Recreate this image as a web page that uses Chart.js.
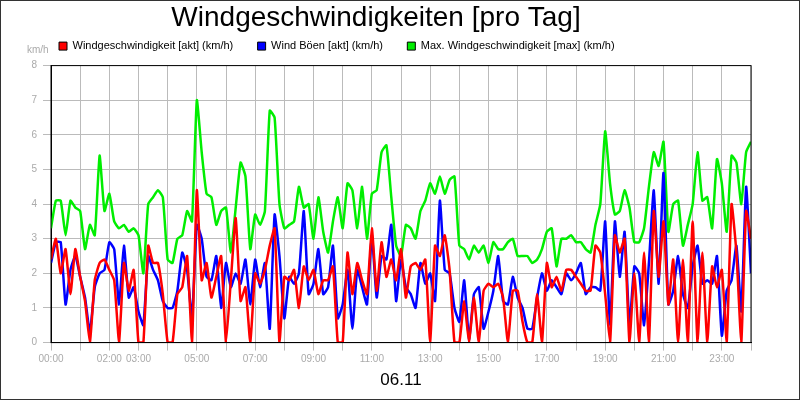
<!DOCTYPE html>
<html>
<head>
<meta charset="utf-8">
<script src="https://cdn.jsdelivr.net/npm/chart.js@4"></script>
<style>
  body { margin: 0; background: #fff; }
  #wrap { position: relative; width: 798px; height: 398px; border: 1px solid #333; }
</style>
</head>
<body>
<div id="wrap"><canvas id="c" width="798" height="398"></canvas></div>
<script>
// 10-Minuten-Werte, 00:00 bis 24:00
const windAkt = [
    2.4,3.0,2.0,2.7,1.4,2.7, 1.9,1.2,0.0,1.8,2.3,2.4, 2.1,1.8,0.0,2.3,1.5,2.1,
    0.0,0.0,2.8,2.3,2.3,1.4, 0.0,0.0,1.4,1.6,2.5,0.0, 4.4,1.8,2.3,1.3,1.9,2.5,
    0.0,1.8,3.6,1.2,1.6,0.0, 2.0,1.7,2.1,2.8,3.3,0.0, 1.9,1.8,2.1,1.0,2.2,1.8,
    2.1,1.4,1.8,1.8,2.2,0.0, 0.0,2.6,1.4,2.3,1.8,1.4, 3.3,1.5,2.9,1.9,2.4,1.8,
    2.7,1.3,2.2,2.3,2.1,2.4, 0.0,2.8,2.5,3.1,2.1,0.0, 0.0,1.2,0.0,1.3,0.0,1.5,
    1.7,1.6,1.7,1.3,0.0,1.5, 1.5,0.6,0.0,0.0,1.4,0.0, 2.3,1.6,1.9,1.5,2.1,2.1,
    1.9,1.7,1.5,1.5,2.8,2.6, 1.4,0.0,3.1,2.6,3.0,0.0, 2.0,0.0,2.6,0.0,3.8,1.9,
    3.5,1.1,2.4,0.0,2.4,0.0, 3.5,0.0,2.6,0.0,2.2,1.6, 2.1,0.0,4.0,2.6,0.0,3.8,
    3.0
];
const windBoeen = [
    2.3,2.9,2.9,1.1,2.1,2.5, 1.9,1.3,0.3,1.6,2.0,2.1, 2.9,2.7,1.1,2.8,1.3,1.6,
    0.9,0.5,2.5,2.1,1.8,1.2, 1.0,1.0,1.5,2.6,2.1,0.7, 3.4,3.0,1.9,1.8,2.5,1.0,
    2.3,1.6,2.0,1.7,2.4,1.1, 2.4,1.6,2.3,0.4,3.7,2.5, 0.7,1.9,1.7,2.0,3.8,1.4,
    1.7,2.7,1.4,1.6,2.8,0.7, 1.1,2.1,0.4,2.1,1.6,1.1, 3.1,1.3,2.5,2.4,3.4,1.2,
    2.4,1.6,1.4,1.0,2.3,1.7, 2.0,1.2,4.1,2.1,2.0,1.0, 0.6,1.8,0.1,1.4,1.6,0.4,
    0.9,1.5,2.5,1.2,1.1,1.9, 1.3,1.0,0.4,0.4,1.3,2.0, 1.5,1.8,1.6,1.4,2.0,1.8,
    2.0,2.3,1.4,1.6,1.6,1.5, 3.5,0.5,3.5,1.9,3.2,0.5, 2.2,2.0,0.5,2.3,4.4,1.7,
    4.9,1.1,1.5,2.5,1.4,1.0, 2.2,2.8,1.7,1.8,1.7,2.5, 0.2,1.5,1.8,2.8,0.9,4.5,
    2.0
];
const windMax = [
    3.3,4.1,4.1,3.1,4.1,3.9, 3.8,2.7,3.4,3.1,5.4,3.8, 4.3,3.5,3.3,3.4,3.2,3.3,
    3.1,2.0,4.0,4.2,4.4,4.2, 2.4,2.3,3.0,3.1,3.8,3.5, 7.0,5.5,4.3,4.2,3.4,3.8,
    3.9,2.6,3.9,5.2,4.8,2.7, 3.7,3.4,3.8,6.7,6.5,4.0, 3.3,3.4,3.5,4.5,3.9,4.0,
    3.0,4.2,3.2,2.6,3.5,4.2, 3.3,4.6,4.4,3.3,4.5,3.0, 4.3,4.4,5.5,5.7,4.2,2.8,
    2.5,3.4,3.3,3.0,3.8,4.1, 4.6,4.3,4.8,4.3,4.7,4.8, 2.8,2.7,2.4,2.8,2.6,2.8,
    2.3,2.9,2.7,2.7,2.9,3.0, 2.5,2.5,2.5,2.3,2.4,2.7, 3.2,3.3,2.2,3.0,3.0,3.1,
    2.9,2.9,2.7,2.6,3.4,4.0, 6.1,4.6,3.7,3.8,4.4,3.9, 2.9,2.9,3.3,4.5,5.5,5.1,
    5.8,3.2,4.0,4.1,2.8,3.4, 4.0,5.5,4.1,4.2,3.3,5.3, 4.6,3.2,5.4,5.2,4.0,5.5,
    5.8
];
const labeledHours = [0, 2, 3, 5, 7, 9, 11, 13, 15, 17, 19, 21, 23];

const toPoints = arr => arr.map((v, i) => ({ x: i / 6, y: v }));
const pad2 = n => String(n).padStart(2, '0');
const fontFamily = '"Liberation Sans", Arial, sans-serif';

const extraText = {
    id: 'extraText',
    afterLayout(chart) {
        // Legende rechts neben "km/h" beginnen lassen
        chart.legend.left = 52;
    },
    afterDraw(chart) {
        const ctx = chart.ctx;
        ctx.save();
        ctx.fillStyle = '#aaa';
        ctx.font = '10px ' + fontFamily;
        ctx.textAlign = 'left';
        ctx.textBaseline = 'middle';
        ctx.fillText('km/h', 26, 49);
        ctx.restore();
    }
};

const chart = new Chart(document.getElementById('c'), {
    type: 'line',
    data: {
        datasets: [{
            label: 'Windgeschwindigkeit [akt] (km/h)',
            data: toPoints(windAkt),
            borderColor: '#ff0000',
            backgroundColor: '#ff0000',
            order: 1
        }, {
            label: 'Wind Böen [akt] (km/h)',
            data: toPoints(windBoeen),
            borderColor: '#0000ff',
            backgroundColor: '#0000ff',
            order: 2
        }, {
            label: 'Max. Windgeschwindigkeit [max] (km/h)',
            data: toPoints(windMax),
            borderColor: '#00ee00',
            backgroundColor: '#00ee00',
            order: 3
        }]
    },
    options: {
        responsive: false,
        animation: false,
        layout: { padding: { left: 0, right: 48, top: 0, bottom: 2 } },
        elements: {
            point: { radius: 0 },
            line: { borderWidth: 2.5, tension: 0.15 }
        },
        plugins: {
            title: {
                display: true,
                text: 'Windgeschwindigkeiten [pro Tag]',
                color: '#000',
                font: { family: fontFamily, size: 28, weight: 'normal' },
                padding: { top: 0, bottom: 0 }
            },
            legend: {
                align: 'start',
                labels: {
                    color: '#000',
                    boxWidth: 8,
                    boxHeight: 8,
                    padding: 6,
                    font: { family: fontFamily, size: 11 },
                    generateLabels(chart) {
                        return chart.data.datasets.map((d, i) => ({
                            text: d.label + '      ',
                            fillStyle: d.borderColor,
                            strokeStyle: '#000',
                            lineWidth: 1,
                            datasetIndex: i,
                            fontColor: '#000'
                        }));
                    }
                }
            },
            tooltip: { enabled: false }
        },
        scales: {
            x: {
                type: 'linear',
                min: 0,
                max: 24,
                border: { color: '#000', width: 1 },
                grid: { color: '#bbb' },
                ticks: {
                    stepSize: 1,
                    autoSkip: false,
                    maxRotation: 0,
                    color: '#aaa',
                    font: { family: fontFamily, size: 10 },
                    callback: v => labeledHours.includes(v) ? pad2(v) + ':00' : ''
                },
                title: {
                    display: true,
                    text: '06.11',
                    color: '#000',
                    font: { family: fontFamily, size: 17 },
                    padding: { top: 2, bottom: 6 }
                }
            },
            y: {
                min: 0,
                max: 8,
                border: { color: '#000', width: 1 },
                grid: { color: '#bbb' },
                afterFit(scale) { scale.width = 50; },
                ticks: {
                    stepSize: 1,
                    color: '#aaa',
                    padding: 6,
                    font: { family: fontFamily, size: 10 }
                }
            }
        }
    },
    plugins: [extraText, {
        id: 'frame',
        afterDatasetsDraw(chart) {
            const a = chart.chartArea, ctx = chart.ctx;
            ctx.save();
            ctx.strokeStyle = '#000';
            ctx.lineWidth = 1;
            ctx.strokeRect(a.left, a.top, a.right - a.left, a.bottom - a.top);
            ctx.restore();
        }
    }]
});

// etwas Abstand unter der Legende
const origFit = chart.legend.fit;
chart.legend.fit = function() {
    origFit.call(this);
    this.height += 4;
};
chart.update();
</script>
</body>
</html>
